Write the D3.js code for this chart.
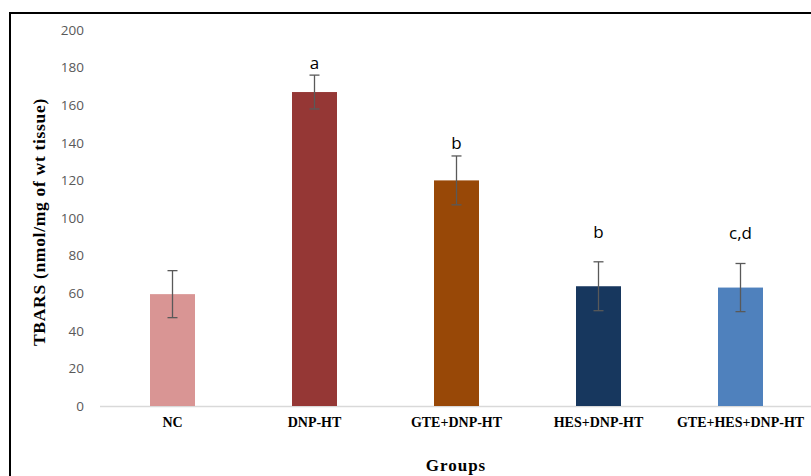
<!DOCTYPE html>
<html>
<head>
<meta charset="utf-8">
<script src="https://cdn.jsdelivr.net/npm/d3@7"></script>
<style>
  html, body { margin: 0; padding: 0; background: #fff; }
  svg { display: block; }
</style>
</head>
<body>
<svg id="chart" width="811" height="476"></svg>
<script>
// TBARS levels per treatment group (mean ± error), with significance letters
const groups = ["NC", "DNP-HT", "GTE+DNP-HT", "HES+DNP-HT", "GTE+HES+DNP-HT"];
const means = [59.5, 167, 120, 63.7, 63];
const errors = [12.5, 9, 13, 13, 12.8];
const letters = ["", "a", "b", "b", "c,d"];
const barColors = ["#d99594", "#953735", "#984807", "#17375e", "#4f81bd"];
const yTicks = [0, 20, 40, 60, 80, 100, 120, 140, 160, 180, 200];

const svg = d3.select("#chart");
const W = 811, H = 476;

// outer frame (top and left edges visible, the rest runs off the canvas)
svg.append("path")
  .attr("d", `M10,${H + 2} L10,13 L${W + 2},13`)
  .attr("fill", "none")
  .attr("stroke", "#000")
  .attr("stroke-width", 2);

const x = d3.scaleBand().domain(groups).range([101.5, 811.5]).paddingInner(0).paddingOuter(0);
const y = d3.scaleLinear().domain([0, 200]).range([406, 30]);
const barW = 45;

// y tick labels
const yAxis = d3.axisLeft(y).tickValues(yTicks).tickSize(0).tickPadding(0);
const gy = svg.append("g").attr("transform", "translate(84,0)").call(yAxis);
gy.select(".domain").remove();
gy.selectAll("text")
  .attr("fill", "#595959")
  .style("font-family", "'Open Sans', 'Noto Sans', sans-serif")
  .style("font-size", "13.5px");

// baseline and category labels
const xAxis = d3.axisBottom(x).tickSize(0).tickPadding(10);
const gx = svg.append("g").attr("transform", "translate(0,406)").call(xAxis);
gx.select(".domain").attr("stroke", "#d9d9d9").attr("stroke-width", 1.5)
  .attr("d", "M100,0.5H811");
gx.selectAll("text")
  .attr("fill", "#000")
  .attr("dy", null)
  .attr("y", 21)
  .style("font-family", "'Liberation Serif', 'DejaVu Serif', serif")
  .style("font-weight", "bold")
  .style("font-size", "14px");

// bars
const data = groups.map((g, i) => ({ g, m: means[i], e: errors[i], l: letters[i], c: barColors[i] }));
svg.append("g").selectAll("rect").data(data).join("rect")
  .attr("x", d => x(d.g) + x.bandwidth() / 2 - barW / 2)
  .attr("width", barW)
  .attr("y", d => y(d.m))
  .attr("height", d => y(0) - y(d.m))
  .attr("fill", d => d.c);

// error bars
const eb = svg.append("g").attr("stroke", "#595959").attr("stroke-width", 1.3);
data.forEach(d => {
  const cx = x(d.g) + x.bandwidth() / 2;
  eb.append("line").attr("x1", cx).attr("x2", cx).attr("y1", y(d.m + d.e)).attr("y2", y(d.m - d.e));
  eb.append("line").attr("x1", cx - 5).attr("x2", cx + 5).attr("y1", y(d.m + d.e)).attr("y2", y(d.m + d.e));
  eb.append("line").attr("x1", cx - 5).attr("x2", cx + 5).attr("y1", y(d.m - d.e)).attr("y2", y(d.m - d.e));
});

// significance letters
svg.append("g").selectAll("text").data(data.filter(d => d.l)).join("text")
  .attr("x", d => x(d.g) + x.bandwidth() / 2)
  .attr("y", d => d.g === "DNP-HT" ? y(d.m + d.e) - 6 : (d.g === "GTE+DNP-HT" ? y(d.m + d.e) - 7 : y(d.m + d.e) - 24))
  .attr("text-anchor", "middle")
  .attr("fill", "#000")
  .style("font-family", "'Open Sans', 'Noto Sans', sans-serif")
  .style("font-size", "17px")
  .text(d => d.l);

// axis titles
svg.append("text")
  .attr("transform", "translate(45,222) rotate(-90)")
  .attr("text-anchor", "middle")
  .style("font-family", "'Liberation Serif', 'DejaVu Serif', serif")
  .style("font-weight", "bold")
  .style("font-size", "17.5px")
  .style("letter-spacing", "0.7px")
  .text("TBARS (nmol/mg of wt tissue)");

svg.append("text")
  .attr("x", 456)
  .attr("y", 471)
  .attr("text-anchor", "middle")
  .style("font-family", "'Liberation Serif', 'DejaVu Serif', serif")
  .style("font-weight", "bold")
  .style("font-size", "17px")
  .style("letter-spacing", "1px")
  .text("Groups");
</script>
</body>
</html>
